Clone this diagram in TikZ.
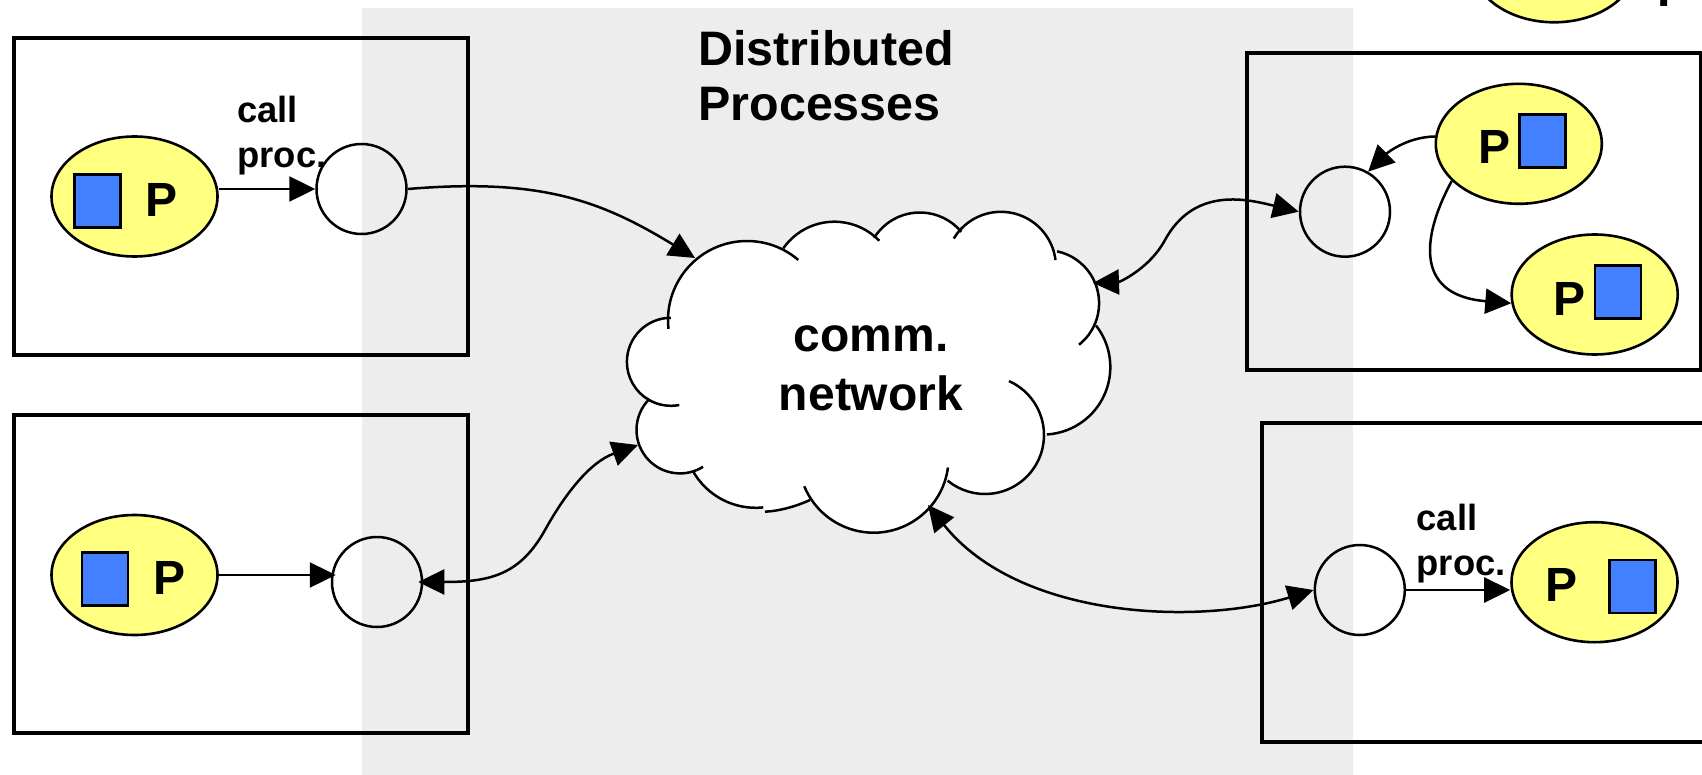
\documentclass[tikz,border=0pt]{standalone}
\usepackage{fontspec}
\setmainfont{Liberation Sans}
\usetikzlibrary{shapes.geometric,arrows.meta}
\definecolor{procyellow}{RGB}{255,255,128}
\definecolor{blockblue}{RGB}{66,128,255}
\definecolor{bandgray}{RGB}{237,237,237}
% one puff of the cloud outline: centre x, centre y, radius, start angle, end angle
\newcommand{\cloudlobe}[5]{\draw[puff] (#1,#2) ++(#4:#3) arc[start angle=#4, end angle=#5, radius=#3];}
\begin{document}
\begin{tikzpicture}[x=0.5pt,y=-0.5pt,
  host/.style={draw, line width=1.6pt, inner sep=0, outer sep=0},
  proc/.style={ellipse, draw, line width=1.3pt, fill=procyellow, minimum width=83pt, minimum height=60pt, inner sep=0},
  port/.style={circle, draw, line width=1.25pt, minimum size=45pt, inner sep=0},
  blk/.style={draw, line width=1.3pt, fill=blockblue, minimum width=23pt, minimum height=26.5pt, inner sep=0},
  ptxt/.style={font=\fontsize{24}{28}\selectfont\bfseries, inner sep=0, anchor=base},
  calltxt/.style={font=\fontsize{18.2}{22.3}\selectfont\bfseries, inner sep=0, align=left, anchor=base west},
  puff/.style={line width=1.25pt},
  link/.style={line width=1.25pt, -{Triangle[length=13pt,width=12.5pt]}},
  dlink/.style={line width=1.25pt, {Triangle[length=13pt,width=12.5pt]}-{Triangle[length=13pt,width=12.5pt]}},
]
\useasboundingbox (0,0) rectangle (1702,775);
\fill[white] (0,0) rectangle (1702,775);
% shaded band of the distributed part
\fill[bandgray] (362,7.7) rectangle (1352.7,780);
% multi-line nodes sit on the baseline of their last line
\node[font=\fontsize{24.2}{27.5}\selectfont\bfseries, align=left, anchor=base west, inner sep=0] (title) at (698,121) {Distributed\\Processes};

% host machines
\node[host, minimum width=227pt, minimum height=158.5pt] (hostA) at (241,196.5) {};
\node[host, minimum width=227pt, minimum height=159pt] (hostB) at (241,574) {};
\node[host, minimum width=227pt, minimum height=158.5pt] (hostC) at (1474,211.5) {};
\node[host, minimum width=227pt, minimum height=159.5pt] (hostD) at (1489,582.5) {};

% processes
\node[proc] (e1) at (134.5,196.5) {};
\node[blk] (s1) at (97.5,201) {};
\node[ptxt] (p1) at (162,217) {P};
\node[proc] (e3) at (134.5,575) {};
\node[blk] (s3) at (105,579) {};
\node[ptxt] (p3) at (170,594) {P};
\node[proc] (e5) at (1518.8,143.8) {};
\node[ptxt] (p5) at (1494,164) {P};
\node[blk] (s5) at (1542.7,140.9) {};
\node[proc] (e6) at (1594.7,294.5) {};
\node[ptxt] (p6) at (1569,315) {P};
\node[blk] (s6) at (1618,292.2) {};
\node[proc] (e7) at (1594.5,582.2) {};
\node[ptxt] (p7) at (1561.5,601) {P};
\node[blk] (s7) at (1632.5,586.3) {};
\node[proc] (e9) at (1554.2,-37.7) {};
\node[font=\fontsize{24}{28}\selectfont\bfseries, inner sep=0, anchor=base west] (p9) at (1657,6.7) {P};

% communication ports
\node[port] (c1) at (361.5,189) {};
\node[port] (c3) at (377,582) {};
\node[port] (c5) at (1345,211.7) {};
\node[port] (c6) at (1359.8,590) {};

\node[calltxt] (cp1) at (237,167.3) {call\\proc.};
\node[calltxt] (cp2) at (1416.3,575) {call\\proc.};

% the network cloud: white body, then the puffs
\foreach \cx/\cy/\r in {747/320/79, 834.4/284.1/62.4, 919.9/266.5/54, 1000.9/266.8/55,
  1046.1/303.2/53, 1042.8/367.1/67.5, 985/435/59, 873.6/457.7/75, 755.7/435.8/72,
  680/429.9/43.5, 670.9/361.8/44}
  \fill[white] (\cx,\cy) circle[radius=\r];
\fill[white] (668,318) -- (783,248) -- (875,238) -- (955,232) -- (1056,253) -- (1095,326)
  -- (1046.7,433.3) -- (946.7,481.7) -- (810,500) .. controls (797,506) and (780,511) .. (765,511.7)
  -- (763.3,508.3) -- (691.7,471.7) -- (650.7,400) -- cycle;
\cloudlobe{747}{320}{79}{173.6}{310.5}
\cloudlobe{834.4}{284.1}{62.4}{215}{316}
\cloudlobe{919.9}{266.5}{54}{212}{320}
\cloudlobe{1000.9}{266.8}{55}{211}{353}
\cloudlobe{1046.1}{303.2}{53}{282}{411.6}
\cloudlobe{1042.8}{367.1}{67.5}{322}{446.6}
\cloudlobe{985}{435}{59}{294}{489.4}
\cloudlobe{873.6}{457.7}{75}{7.5}{157.6}
\cloudlobe{755.7}{435.8}{72}{151}{84}
\draw[puff] (810,500) .. controls (797,506) and (780,511) .. (765,511.7);
\cloudlobe{680}{429.9}{43.5}{225.6}{58}
\cloudlobe{670.9}{361.8}{44}{270}{79}
\node[font=\fontsize{24}{29.2}\selectfont\bfseries, align=center, anchor=base, inner sep=0] (net) at (871,410) {comm.\\network};

% attachment points on the cloud
\coordinate (cTL) at (695,258);
\coordinate (cBL) at (638,445);
\coordinate (cTR) at (1093,283);
\coordinate (cBR) at (928,505);

% connectors
\draw[link] (c1.west -| e1.east) -- (c1.west);
\draw[link] (c1.east) .. controls (540,178) and (600,200) .. (cTL);
\draw[link, shorten >=-2.5pt] (e3.east) -- (e3.east -| c3.west);
\draw[dlink, shorten <=-2.5pt] (c3.east) .. controls (490,582) and (520,575) .. (545,530)
  .. controls (565,494) and (590,462) .. (cBL);
\draw[dlink] (c5.west) .. controls (1250,200) and (1195,185) .. (1165,240)
  .. controls (1150,268) and (1120,282) .. (cTR);
\draw[dlink] (c6.west) .. controls (1200,625) and (1020,620) .. (cBR);
\draw[link] (e5.175) .. controls (1405,137) and (1385,155) .. (c5.60);
\draw[link] (e5.209) .. controls (1425,230) and (1410,295) .. (e6.186);
\draw[link] (c6.east) -- (c6.east -| e7.west);
\end{tikzpicture}
\end{document}
